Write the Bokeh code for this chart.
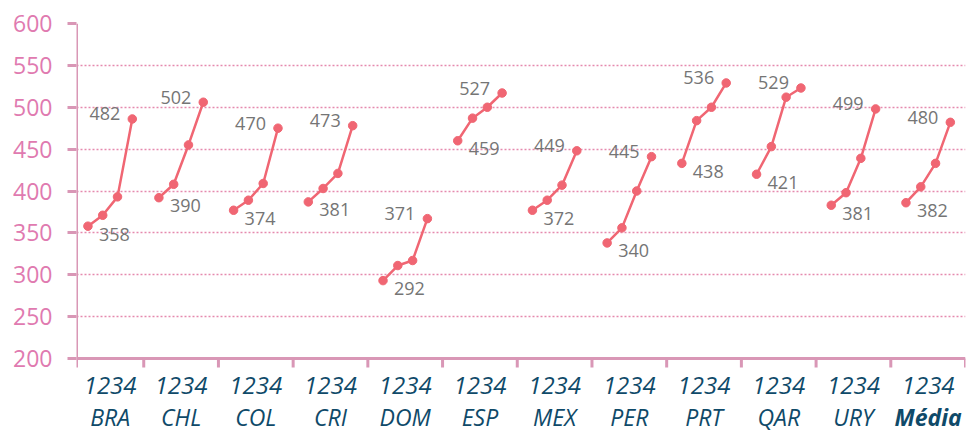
from bokeh.plotting import figure
from bokeh.models import Range1d, FixedTicker, ColumnDataSource, LabelSet
from bokeh.core.properties import value
from bokeh.embed import file_html
from bokeh.resources import INLINE

# ---- data ----
countries = ["BRA", "CHL", "COL", "CRI", "DOM", "ESP", "MEX", "PER", "PRT", "QAR", "URY", "Média"]
quartile_label = "1234"
q1 = [358, 392, 377, 387, 293, 460, 377, 338, 433, 420, 383, 386]
q2 = [371, 408, 389, 403, 311, 487, 389, 356, 484, 453, 398, 405]
q3 = [393, 455, 409, 421, 317, 500, 407, 400, 500, 512, 439, 433]
q4 = [486, 506, 475, 478, 367, 517, 448, 441, 529, 523, 498, 482]
first_labels = [358, 390, 374, 381, 292, 459, 372, 340, 438, 421, 381, 382]
last_labels = [482, 502, 470, 473, 371, 527, 449, 445, 536, 529, 499, 480]
yticks = [200, 250, 300, 350, 400, 450, 500, 550, 600]

# ---- styling / layout ----
FONT = "Open Sans"
LINE_COL = "#f06673"
AXIS_COL = "#d997b6"
TICKLBL_COL = "#e07ab0"
GRID_COL = "#e58aae"
VAL_COL = "#757575"
CAT_COL = "#0f4a69"

W, H = 966, 431
TOP = 23                  # px above the 600 line
PLOT_PX = 335             # px between 200 and 600
y_lo, y_hi = yticks[0], yticks[-1]
px_per_unit = PLOT_PX / (y_hi - y_lo)
y_start = y_hi - (H - TOP) / px_per_unit   # frame reaches to the bottom of the canvas
tick_len = 9 / px_per_unit                # 9px ticks in data units
row1_y = y_hi - (385 - TOP) / px_per_unit # "1234" row
row2_y = y_hi - (416 - TOP) / px_per_unit # country row

n = len(countries)
x_start = 0.1
step = 0.198


def center(i):
    return (max(i, x_start) + i + 1) / 2.0


p = figure(width=W, height=H, output_backend="svg", toolbar_location=None,
           x_range=Range1d(x_start, n), y_range=Range1d(y_start, y_hi),
           min_border_left=76, min_border_top=TOP, min_border_bottom=0, min_border_right=1)
p.outline_line_color = None
p.background_fill_color = "white"
p.border_fill_color = "white"
p.xaxis.visible = False

# grid
p.xgrid.visible = False
p.ygrid.ticker = FixedTicker(ticks=yticks[1:])
p.ygrid.grid_line_color = GRID_COL
p.ygrid.grid_line_dash = "2 2"
p.ygrid.grid_line_width = 1.5

# y axis (labels and ticks); the axis line itself is drawn below
p.yaxis.ticker = FixedTicker(ticks=yticks)
p.yaxis.axis_line_color = None
p.yaxis.major_tick_line_color = AXIS_COL
p.yaxis.major_tick_line_width = 3
p.yaxis.major_tick_out = 9
p.yaxis.major_tick_in = 0
p.yaxis.minor_tick_line_color = None
p.yaxis.major_label_text_font = FONT
p.yaxis.major_label_text_font_size = "23px"
p.yaxis.major_label_text_color = TICKLBL_COL
p.yaxis.major_label_standoff = 15

# axis lines and group separators
p.segment(x0=[x_start, x_start], y0=[y_hi, y_lo], x1=[x_start, n], y1=[y_lo - tick_len, y_lo],
          line_color=AXIS_COL, line_width=3)
seps = list(range(1, n + 1))
p.segment(x0=seps, y0=[y_lo] * len(seps), x1=seps, y1=[y_lo - tick_len] * len(seps),
          line_color=AXIS_COL, line_width=3)

# lines and points
xs, ys = [], []
px, py = [], []
for i in range(n):
    c = center(i)
    gx = [c + (q - 2.5) * step for q in range(1, 5)]
    gy = [q1[i], q2[i], q3[i], q4[i]]
    xs.append(gx)
    ys.append(gy)
    px += gx
    py += gy

p.multi_line(xs, ys, line_color=LINE_COL, line_width=2.5)
p.scatter(px, py, size=8.5, fill_color=LINE_COL, line_color=LINE_COL)

# value labels
first_src = ColumnDataSource(dict(x=[g[0] for g in xs], y=q1, t=[str(v) for v in first_labels]))
last_src = ColumnDataSource(dict(x=[g[3] for g in xs], y=q4, t=[str(v) for v in last_labels]))
p.add_layout(LabelSet(x="x", y="y", text="t", source=first_src, x_offset=11, y_offset=-8,
                      text_align="left", text_baseline="middle", text_font=value(FONT),
                      text_font_size=value("18px"), text_color=value(VAL_COL)))
p.add_layout(LabelSet(x="x", y="y", text="t", source=last_src, x_offset=-12, y_offset=5,
                      text_align="right", text_baseline="middle", text_font=value(FONT),
                      text_font_size=value("18px"), text_color=value(VAL_COL)))

# category labels below the axis
centers = [center(i) for i in range(n)]
styles = ["bold italic" if c == "Média" else "italic" for c in countries]
p.text(x=centers, y=[row1_y] * n, text=[quartile_label] * n, text_align="center",
       text_baseline="alphabetic", text_font=value(FONT), text_font_size="24px",
       text_font_style="italic", text_color=CAT_COL)
cat_src = ColumnDataSource(dict(x=centers, y=[row2_y] * n, t=countries, s=styles))
p.text(x="x", y="y", text="t", text_font_style="s", source=cat_src, text_align="center",
       text_baseline="alphabetic", text_font=value(FONT), text_font_size="23px",
       text_color=CAT_COL)

open("out.html", "w").write(file_html(p, INLINE))
